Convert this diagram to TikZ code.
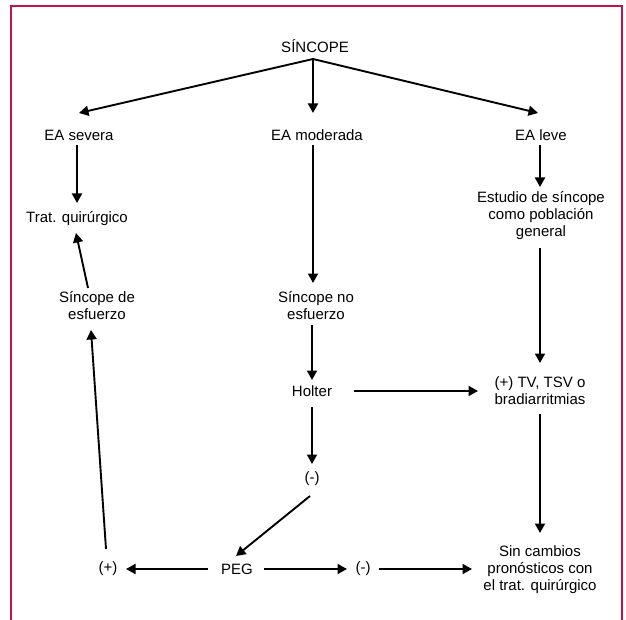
\documentclass[tikz,border=0pt]{standalone}
\usepackage{fontspec}
\setmainfont{Liberation Sans}
\usetikzlibrary{arrows.meta}
\definecolor{framecol}{RGB}{196,18,72}
\begin{document}
\begin{tikzpicture}[x=1pt,y=-1pt,
  lbl/.style={inner sep=0pt, align=center, font=\fontsize{15}{17}\selectfont},
  arr/.style={line width=1.9pt, -{Triangle[length=9.5pt,width=10pt]}},
  ln/.style={line width=1.9pt}]
\useasboundingbox (0,0) rectangle (626,620);
\draw[framecol, line width=2pt] (11,621) -- (11,6) -- (622,6) -- (622,621);

\node[lbl] (sin)  at (315,46)  {SÍNCOPE};
\node[lbl] (sev)  at (79,135)  {EA severa};
\node[lbl] (mod)  at (317,135) {EA moderada};
\node[lbl] (lev)  at (541,135) {EA leve};
\node[lbl] (trat) at (77,219)  {Trat. quirúrgico};
\node[lbl] (est)  at (541,216) {Estudio de síncope\\como población\\general};
\node[lbl] (sde)  at (97,306)  {Síncope de\\esfuerzo};
\node[lbl] (sno)  at (316,306) {Síncope no\\esfuerzo};
\node[lbl] (hol)  at (312,391) {Holter};
\node[lbl] (tv)   at (540,391) {(+) TV, TSV o\\bradiarritmias};
\node[lbl] (neg1) at (312,479) {(-)};
\node[lbl] (pos)  at (108,569) {(+)};
\node[lbl] (peg)  at (237,569) {PEG};
\node[lbl] (neg2) at (363,569) {(-)};
\node[lbl] (sinc) at (540,570) {Sin cambios\\pronósticos con\\el trat. quirúrgico};

\draw[arr] ([shift={(-2,13)}]sin.center) -- ([shift={(0,-22)}]sev.center);
\draw[arr] ([shift={(-2,13)}]sin.center) -- ([shift={(-4,-22)}]mod.center);
\draw[arr] ([shift={(-2,13)}]sin.center) -- ([shift={(-3,-22)}]lev.center);
\draw[arr] ([shift={(-2,10)}]sev.center) -- ([shift={(0,-16)}]trat.center);
\draw[arr] ([shift={(-4,10)}]mod.center) -- ([shift={(-3,-23)}]sno.center);
\draw[arr] ([shift={(-1,10)}]lev.center) -- ([shift={(-1,-29)}]est.center);
\draw[arr] ([shift={(-9,-18)}]sde.center) -- ([shift={(-1,14)}]trat.center);
\draw[arr] ([shift={(-4,19)}]sno.center) -- ([shift={(0,-11)}]hol.center);
\draw[arr] ([shift={(-1,32)}]est.center) -- ([shift={(0,-28)}]tv.center);
\draw[arr] ([shift={(42,0)}]hol.center) -- ([shift={(-62,0)}]tv.center);
\draw[arr] ([shift={(0,16)}]hol.center) -- ([shift={(0,-15)}]neg1.center);
\draw[arr] ([shift={(0,23)}]tv.center) -- ([shift={(0,-37)}]sinc.center);
\draw[arr] ([shift={(-2,17)}]neg1.center) -- ([shift={(-1,-13)}]peg.center);
\draw[arr] ([shift={(-29,0)}]peg.center) -- ([shift={(18,0)}]pos.center);
\draw[arr] ([shift={(27,0)}]peg.center) -- ([shift={(-16,0)}]neg2.center);
\draw[arr] ([shift={(16,0)}]neg2.center) -- ([shift={(-68,-1)}]sinc.center);
\draw[arr] ([shift={(-2,-20)}]pos.center) -- ([shift={(-6,24)}]sde.center);
\end{tikzpicture}
\end{document}
